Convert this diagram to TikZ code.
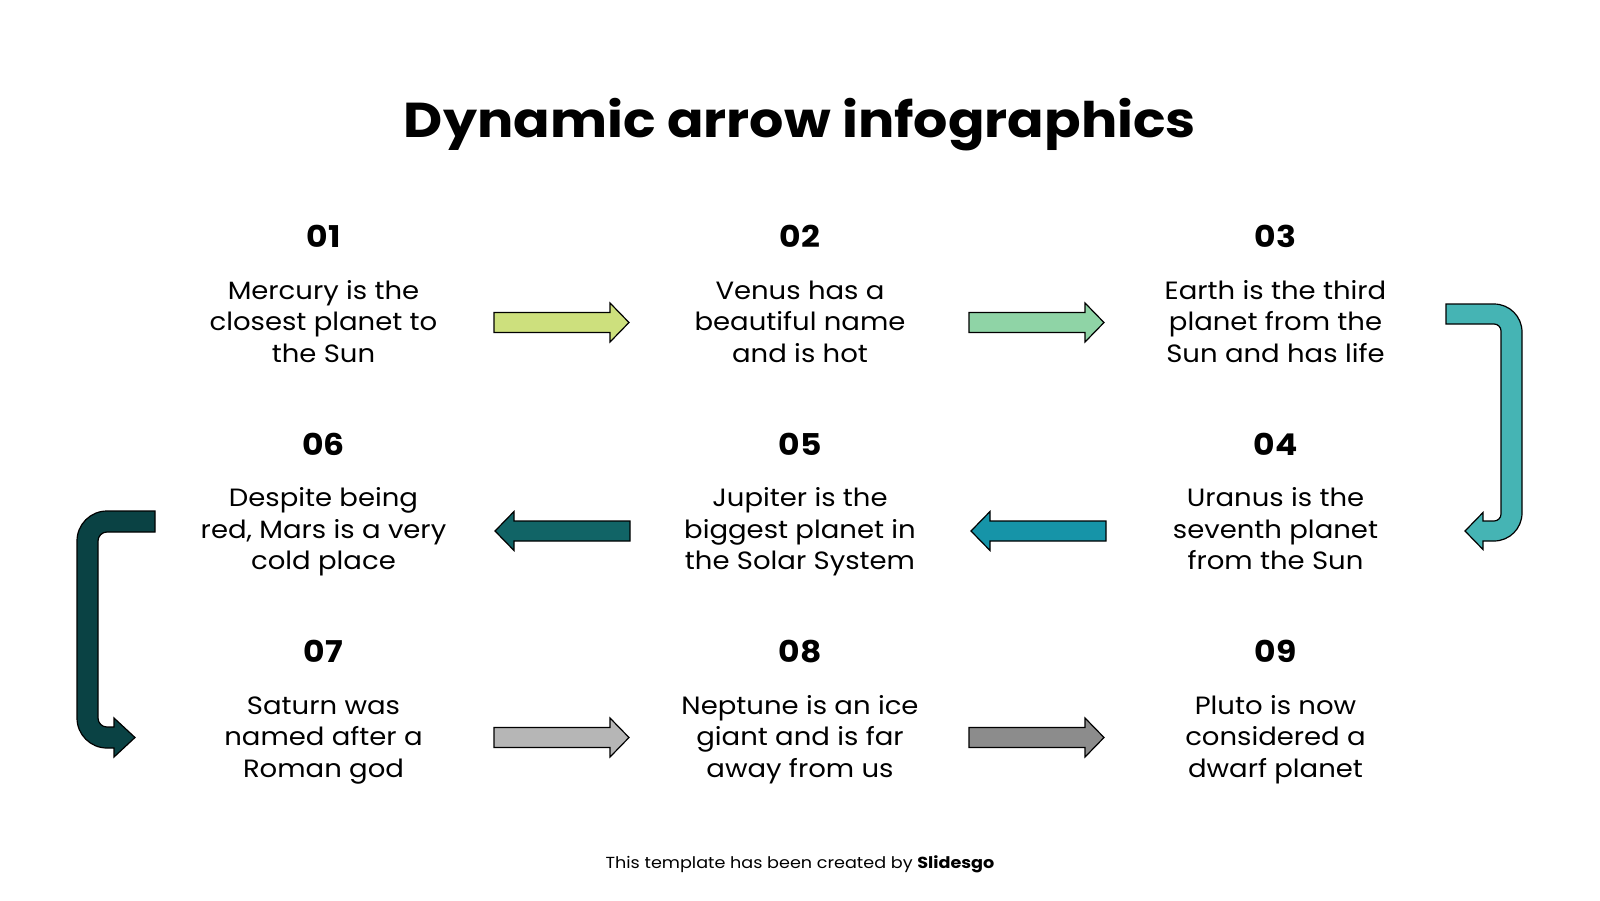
\documentclass[tikz,border=0pt]{standalone}
\usepackage{fontspec}
\setmainfont[FakeStretch=1.1]{Poppins}
\definecolor{cA}{RGB}{205,224,125}
\definecolor{cB}{RGB}{143,212,166}
\definecolor{cC}{RGB}{69,180,180}
\definecolor{cD}{RGB}{22,148,168}
\definecolor{cE}{RGB}{17,100,102}
\definecolor{cF}{RGB}{10,66,68}
\definecolor{cG}{RGB}{182,182,182}
\definecolor{cH}{RGB}{140,140,140}
\tikzset{
  num/.style={anchor=base,font=\fontsize{30}{36}\selectfont\bfseries},
  desc/.style={anchor=base,align=center,font=\fontsize{25}{31.5}\selectfont},
  blk/.style={draw=black,line width=1.2pt,line join=miter},
  barrow/.pic={\path[blk,pic actions] (0,-10) -- (116,-10) -- (116,-19.5) -- (135,0) -- (116,19.5) -- (116,10) -- (0,10) -- cycle;}
}
\begin{document}
\begin{tikzpicture}[x=1pt,y=-1pt]
\useasboundingbox (0,0) rectangle (1600,900);
\node[anchor=base,font=\fontsize{49}{58}\selectfont\bfseries] (title) at (800,137) {Dynamic arrow infographics};
% numbers
\node[num] (n1) at (323.5,247.3) {01};
\node[num] (n2) at (800,247.3) {02};
\node[num] (n3) at (1275.5,247.3) {03};
\node[num] (n6) at (323.5,455) {06};
\node[num] (n5) at (800,455) {05};
\node[num] (n4) at (1275.5,455) {04};
\node[num] (n7) at (323.5,662.7) {07};
\node[num] (n8) at (800,662.7) {08};
\node[num] (n9) at (1275.5,662.7) {09};
% descriptions (anchor = baseline of last line)
\node[desc] (t1) at (323.5,362) {Mercury is the\\closest planet to\\the Sun};
\node[desc] (t2) at (800,362) {Venus has a\\beautiful name\\and is hot};
\node[desc] (t3) at (1275.5,362) {Earth is the third\\planet from the\\Sun and has life};
\node[desc] (t6) at (323.5,569.7) {Despite being\\red, Mars is a very\\cold place};
\node[desc] (t5) at (800,569.7) {Jupiter is the\\biggest planet in\\the Solar System};
\node[desc] (t4) at (1275.5,569.7) {Uranus is the\\seventh planet\\from the Sun};
\node[desc] (t7) at (323.5,777.4) {Saturn was\\named after a\\Roman god};
\node[desc] (t8) at (800,777.4) {Neptune is an ice\\giant and is far\\away from us};
\node[desc] (t9) at (1275.5,777.4) {Pluto is now\\considered a\\dwarf planet};
% straight arrows
\pic[fill=cA] at (494,322.5) {barrow};
\pic[fill=cB] at (969,322.5) {barrow};
\pic[fill=cD,xscale=-1] at (1106,531) {barrow};
\pic[fill=cE,xscale=-1] at (630,531) {barrow};
\pic[fill=cG] at (494,737.5) {barrow};
\pic[fill=cH] at (969,737.5) {barrow};
% curved arrow right
\path[blk,fill=cC] (1446,304) -- (1494,304) .. controls (1509.5,304) and (1522,316.5) .. (1522,332)
  -- (1522,513) .. controls (1522,528.5) and (1509.5,541) .. (1494,541)
  -- (1483,541) -- (1483,549.5) -- (1465,531) -- (1483,512.5) -- (1483,521) -- (1494,521)
  .. controls (1497.9,521) and (1501,517.9) .. (1501,514)
  -- (1501,331) .. controls (1501,327.1) and (1497.9,324) .. (1494,324) -- (1446,324) -- cycle;
% curved arrow left
\path[blk,fill=cF] (155,511) -- (107,511) .. controls (90.4,511) and (77,524.4) .. (77,541)
  -- (77,718) .. controls (77,734.6) and (90.4,748) .. (107,748)
  -- (114,748) -- (114,757) -- (135,737.5) -- (114,718) -- (114,727) -- (107,727)
  .. controls (102,727) and (98,723) .. (98,718)
  -- (98,541) .. controls (98,536) and (102,532) .. (107,532) -- (155,532) -- cycle;
\node[anchor=base,font=\fontsize{16}{20}\selectfont] (foot) at (800,868) {This template has been created by \textbf{Slidesgo}};
\end{tikzpicture}
\end{document}
